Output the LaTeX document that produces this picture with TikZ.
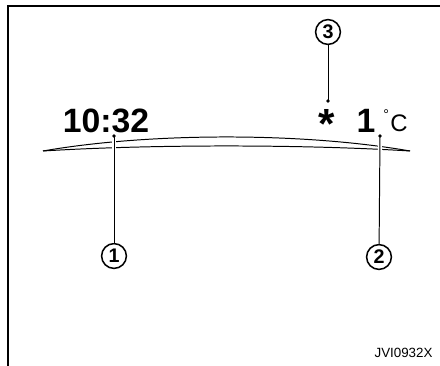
\documentclass[tikz,border=0pt]{standalone}
\usepackage{fontspec}
\setmainfont{Liberation Sans}
\begin{document}
\begin{tikzpicture}[x=0.025cm, y=-0.025cm, line width=0.7pt,
    callout/.style={draw, circle, line width=1.1pt, inner sep=0pt,
        minimum size=0.62cm, font=\fontsize{14}{14}\selectfont\bfseries},
    readout/.style={font=\fontsize{24}{24}\selectfont\bfseries, inner sep=0pt, anchor=base},
    pin/.style={fill, circle, inner sep=0pt, minimum size=2.8pt}]

\useasboundingbox (0,0) rectangle (440,366);

% ── Cadre ───────────────────────────────────────────────
\draw[line width=0.8pt] (440,6) -- (8,6) -- (8,366);

% ── Ecran courbe (double trait) ─────────────────────────
\draw (43,151) .. controls (150,132.3) and (303,132.3) .. (410,151);
\draw (43,151) .. controls (150,144.3) and (303,144.3) .. (410,151);

% ── Affichages ──────────────────────────────────────────
\node[readout] (clock) at (106,133) {10:32};
\node[readout] (temp) at (366,133) {1};
\node[font=\fontsize{10}{10}\selectfont, inner sep=0pt, anchor=base west]
    (deg) at (383,120) {°};
\node[font=\fontsize{17}{17}\selectfont, inner sep=0pt, anchor=base west]
    (unit) at (390,132) {C};
\node[font=\fontsize{30}{30}\selectfont\bfseries, inner sep=0pt, anchor=base]
    (frost) at (327,139) {*};

% ── Points de repere ────────────────────────────────────
\coordinate (d1) at (114,136);
\coordinate (d2) at (380,136);
\coordinate (d3) at (328,101);

% ── Bulles numerotees ───────────────────────────────────
\node[callout] (c1) at (114,256) {1};
\node[callout] (c2) at (379,257) {2};
\node[callout] (c3) at (328,32) {3};

% ── Traits de rappel ────────────────────────────────────
\draw[preaction={draw=white, line width=3pt}] (d1) -- (c1);
\draw[preaction={draw=white, line width=3pt}] (d2) -- (c2);
\draw (d3) -- (c3);
\foreach \d in {d1,d2,d3}
    \node[pin] at (\d) {};

% ── Reference ───────────────────────────────────────────
\node[font=\fontsize{9.5}{9.5}\selectfont, anchor=base east, inner sep=0pt]
    (ref) at (433,357) {JVI0932X};

\end{tikzpicture}
\end{document}
